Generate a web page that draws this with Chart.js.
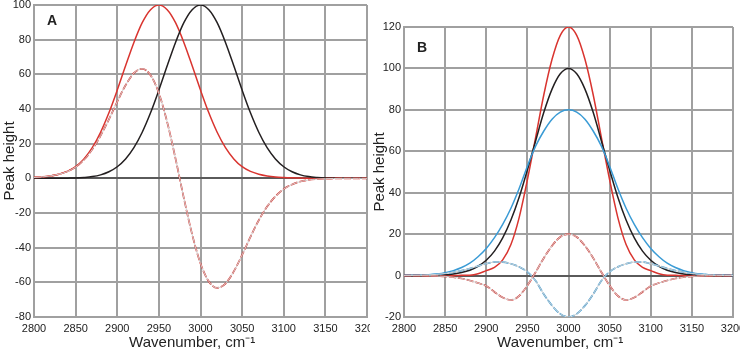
<!DOCTYPE html>
<html>
<head>
<meta charset="utf-8">
<title>Peak height vs wavenumber</title>
<script src="https://cdn.jsdelivr.net/npm/chart.js@4.4.1/dist/chart.umd.min.js"></script>
<style>
  body { margin: 0; background: #fff; }
  #wrap { position: relative; width: 740px; height: 352px; overflow: hidden; }
  .panel { position: absolute; top: 0; width: 370px; height: 352px; }
  .tag { position: absolute; font: bold 14px/14px "Liberation Sans", Arial, sans-serif; color: #222; }
</style>
</head>
<body>
<div id="wrap">
  <div class="panel" style="left:0"><canvas id="chartA" width="370" height="352"></canvas></div>
  <div class="panel" style="left:370px"><canvas id="chartB" width="370" height="352"></canvas></div>
  <div class="tag" style="left:47px;top:13px">A</div>
  <div class="tag" style="left:417px;top:40px">B</div>
</div>
<script>
// wavenumber axis, cm-1
let wavenumbers = [2800, 2810, 2820, 2830, 2840, 2850, 2860, 2870, 2880, 2890,
                   2900, 2910, 2920, 2930, 2940, 2950, 2960, 2970, 2980, 2990,
                   3000, 3010, 3020, 3030, 3040, 3050, 3060, 3070, 3080, 3090,
                   3100, 3110, 3120, 3130, 3140, 3150, 3160, 3170, 3180, 3190, 3200];

// panel A
let aBlack = [0, 0, 0, 0, 0.1, 0.2, 0.5, 1.0, 2.0, 3.8,
              6.7, 11.2, 17.7, 26.6, 37.8, 50.9, 64.9, 78.4, 89.8, 97.3,
              100, 97.3, 89.8, 78.4, 64.9, 50.9, 37.8, 26.6, 17.7, 11.2,
              6.7, 3.8, 2.0, 1.0, 0.5, 0.2, 0.1, 0, 0, 0, 0];
let aRed = [0.5, 0.8, 1.4, 2.4, 4.0, 6.7, 11.2, 17.7, 26.6, 37.8,
            50.9, 64.9, 78.4, 89.8, 97.3, 100, 97.3, 89.8, 78.4, 64.9,
            50.9, 37.8, 26.6, 17.7, 11.2, 6.7, 4.0, 2.4, 1.4, 0.8,
            0.5, 0.3, 0.15, 0.1, 0.05, 0, 0, 0, 0, 0, 0];
let aDiff = [0.5, 0.8, 1.4, 2.4, 3.9, 6.5, 10.7, 16.7, 24.6, 34.0,
             44.2, 53.7, 60.7, 63.2, 59.5, 49.1, 32.4, 11.4, -11.4, -32.4,
             -49.1, -59.5, -63.2, -60.7, -53.7, -44.2, -33.8, -24.2, -16.3, -10.4,
             -6.2, -3.5, -1.85, -0.9, -0.45, -0.2, -0.1, 0, 0, 0, 0];

// panel B
let bBlack = [0, 0, 0.05, 0.1, 0.2, 0.4, 0.8, 1.5, 2.6, 4.5,
              7.4, 11.8, 18.2, 26.8, 37.8, 51, 65, 78.8, 90, 97.4,
              100, 97.4, 90, 78.8, 65, 51, 37.8, 26.8, 18.2, 11.8,
              7.4, 4.5, 2.6, 1.5, 0.8, 0.4, 0.2, 0.1, 0.05, 0, 0];
let bRed = [0, 0, 0, 0, 0, 0, 0, 0.1, 0.2, 0.9,
            2.4, 3.9, 7.6, 15.0, 28.0, 46.2, 66.6, 87.3, 104.4, 116,
            120, 116, 104.4, 87.3, 66.6, 46.2, 28.0, 15.0, 7.6, 3.9,
            2.4, 0.9, 0.2, 0.1, 0, 0, 0, 0, 0, 0, 0];
let bBlue = [0.05, 0.1, 0.25, 0.45, 0.8, 1.4, 2.4, 3.9, 6.0, 9.1,
             13.1, 18.3, 24.7, 32.5, 42.0, 52.8, 62.5, 69.8, 75.5, 78.9,
             80, 78.9, 75.5, 69.8, 62.5, 52.8, 42.0, 32.5, 24.7, 18.3,
             13.1, 9.1, 6.0, 3.9, 2.4, 1.4, 0.8, 0.45, 0.25, 0.1, 0.05];
let bRedDiff = [0, 0, -0.05, -0.1, -0.2, -0.4, -0.8, -1.4, -2.4, -3.6,
                -5.0, -7.9, -10.6, -11.8, -9.8, -4.8, 1.6, 8.5, 14.4, 18.6,
                20, 18.6, 14.4, 8.5, 1.6, -4.8, -9.8, -11.8, -10.6, -7.9,
                -5.0, -3.6, -2.4, -1.4, -0.8, -0.4, -0.2, -0.1, -0.05, 0, 0];
let bBlueDiff = [0.05, 0.1, 0.2, 0.35, 0.6, 1.0, 1.6, 2.4, 3.4, 4.6,
                 5.7, 6.5, 6.5, 5.7, 4.2, 1.8, -2.5, -9.0, -14.5, -18.5,
                 -20, -18.5, -14.5, -9.0, -2.5, 1.8, 4.2, 5.7, 6.5, 6.5,
                 5.7, 4.6, 3.4, 2.4, 1.6, 1.0, 0.6, 0.35, 0.2, 0.1, 0.05];

let xTicks = [2800, 2850, 2900, 2950, 3000, 3050, 3100, 3150, 3200];

const BLACK = '#231f20';
const RED = '#d9342f';
const BLUE = '#3a9bd5';
const GRID = '#a0a0a0';
const FONT = '"Liberation Sans", Arial, sans-serif';

function pts(arr) {
    return wavenumbers.map((w, i) => ({ x: w, y: arr[i] }));
}

function solid(arr, color) {
    return { data: pts(arr), borderColor: color, borderWidth: 1.5 };
}

// dashed curves: thin light grey line under a coloured dash
function dashed(arr, color) {
    return [
        { data: pts(arr), borderColor: '#d0d0d0', borderWidth: 1 },
        { data: pts(arr), borderColor: color, borderWidth: 1.7, borderDash: [7, 2] }
    ];
}

function makeChart(id, datasets, yMin, yMax, padTop, padRight) {
    let ctx = document.getElementById(id).getContext('2d');
    return new Chart(ctx, {
        type: 'line',
        data: { datasets: datasets },
        options: {
            responsive: false,
            animation: false,
            layout: { padding: { top: padTop, right: padRight, left: 0, bottom: 0 } },
            elements: {
                point: { radius: 0 },
                line: { cubicInterpolationMode: 'monotone', fill: false }
            },
            plugins: {
                legend: { display: false },
                tooltip: { enabled: false }
            },
            scales: {
                x: {
                    type: 'linear',
                    min: 2800,
                    max: 3200,
                    afterBuildTicks: function (s) { s.ticks = xTicks.map(v => ({ value: v })); },
                    afterFit: function (s) { s.height = 35; s.paddingLeft = 0; s.paddingRight = 0; },
                    grid: { color: GRID, lineWidth: 2, drawTicks: false },
                    border: { color: GRID, width: 2 },
                    ticks: {
                        padding: 5, maxRotation: 0, autoSkip: false, color: '#222',
                        font: { family: FONT, size: 11 },
                        callback: v => String(v)
                    },
                    title: {
                        display: true,
                        text: 'Wavenumber, cm⁻¹\u00a0\u00a0\u00a0\u00a0',
                        color: '#222',
                        padding: { top: 0, bottom: 0 },
                        font: { family: FONT, size: 15 }
                    }
                },
                y: {
                    min: yMin,
                    max: yMax,
                    afterFit: function (s) { s.width = 34; s.paddingTop = 0; s.paddingBottom = 0; },
                    grid: {
                        color: c => (c.tick && c.tick.value === 0 ? '#5a5a5a' : GRID),
                        lineWidth: 2,
                        drawTicks: false
                    },
                    border: { color: GRID, width: 2 },
                    ticks: { stepSize: 20, padding: 3, color: '#222', font: { family: FONT, size: 11 } },
                    title: {
                        display: true,
                        text: 'Peak height',
                        color: '#222',
                        padding: { top: 1, bottom: 0 },
                        font: { family: FONT, size: 15 }
                    }
                }
            }
        }
    });
}

makeChart('chartA',
    dashed(aDiff, RED).concat([solid(aBlack, BLACK), solid(aRed, RED)]),
    -80, 100, 5, 3);

makeChart('chartB',
    dashed(bRedDiff, RED).concat(dashed(bBlueDiff, BLUE), [solid(bBlue, BLUE), solid(bBlack, BLACK), solid(bRed, RED)]),
    -20, 120, 27, 7);
</script>
</body>
</html>
